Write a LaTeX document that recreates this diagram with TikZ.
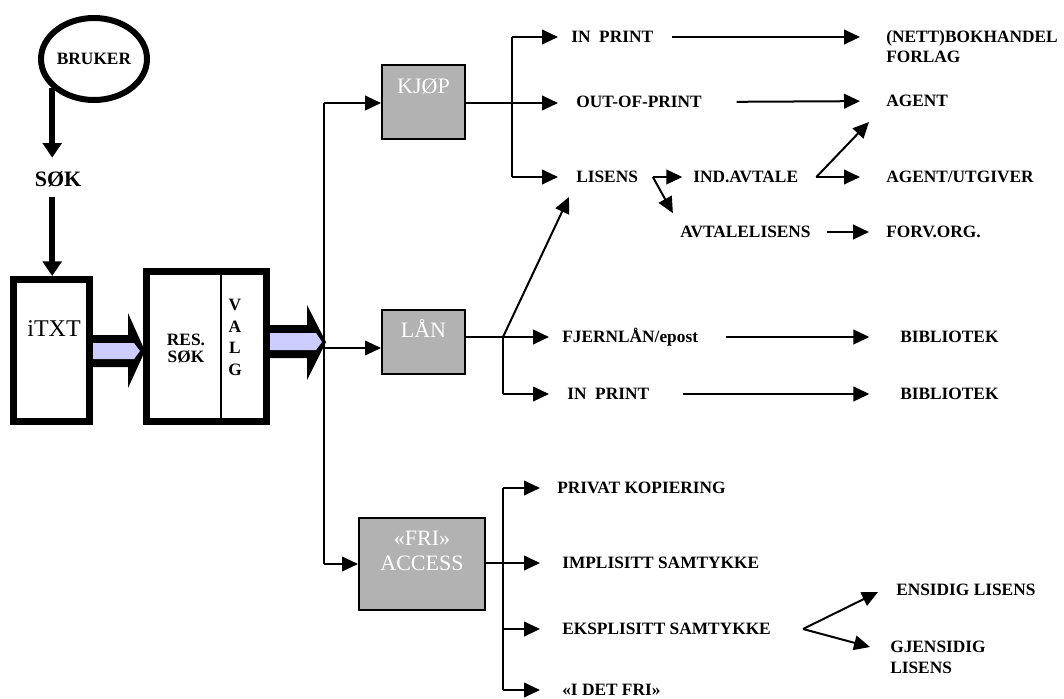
\documentclass[tikz,border=0pt]{standalone}
\usepackage{fontspec}
\setmainfont{Liberation Serif}
\usetikzlibrary{positioning,arrows.meta,shapes.geometric}
\definecolor{boxgray}{RGB}{178,178,178}
\definecolor{lilac}{RGB}{204,204,255}
\tikzset{
  lbl/.style={font=\fontsize{13}{15.5}\selectfont\bfseries,inner sep=0pt,anchor=west,text height=8.6pt,text depth=0pt},
  lbltwo/.style={font=\fontsize{13}{15.5}\selectfont\bfseries,inner sep=0pt,anchor=north west,align=left},
  graybox/.style={draw,fill=boxgray,line width=1.5pt,inner sep=0pt},
  wlbl/.style={font=\fontsize{16.5}{18.75}\selectfont,text=white,inner sep=0pt,align=center},
  heavybox/.style={draw,line width=5.25pt,inner sep=0pt},
  wire/.style={line width=1.5pt},
  arr/.style={line width=1.5pt,-{Triangle[length=12pt,width=11pt]}},
  fatarr/.style={line width=4.3pt,-{Triangle[length=11pt,width=14pt]}},
  lnk/.style 2 args={shorten <=#1,shorten >=#2}
}
\begin{document}
\begin{tikzpicture}[x=0.75pt,y=-0.75pt]
      \useasboundingbox (0,0) rectangle (1064,699);
      \node[ellipse,draw,line width=4.5pt,minimum width=79.5pt,minimum height=61.5pt,inner sep=0pt,font=\fontsize{13}{15}\selectfont\bfseries] (bruker) at (94,59) {BRUKER};
      \node[font=\fontsize{16.5}{18}\selectfont\bfseries,inner sep=0pt,text height=11pt,text depth=0pt] (sok) at (58,179) {SØK};
      \node[heavybox,minimum width=57pt,minimum height=106.5pt] (itxt) at (51.5,350.5) {};
      \node[font=\fontsize{18}{20}\selectfont,inner sep=0pt,text height=11.9pt,text depth=0pt] (itxtlbl) at (54,329) {iTXT};
      \node[heavybox,minimum width=90pt,minimum height=112.5pt] (res) at (206.5,346.5) {};
      \coordinate (divx) at (221,0);
      \node[font=\fontsize{13}{12.8}\selectfont\bfseries,align=center,inner sep=0pt] (ressok) at (186,348.5) {RES.\\SØK};
      \node[font=\fontsize{13}{16.25}\selectfont\bfseries,align=center,inner sep=0pt] (valg) at (235,337.5) {V\\A\\L\\G};
      \node[graybox,minimum width=62.25pt,minimum height=55.5pt] (kjop) at (423.5,102) {};
      \node[wlbl,text height=10.9pt,text depth=0pt] (kjoplbl) at (423.5,86) {KJØP};
      \node[graybox,minimum width=62.25pt,minimum height=48pt] (lan) at (423.5,342) {};
      \node[wlbl,text height=10.9pt,text depth=0pt] (lanlbl) at (423.5,330) {LÅN};
      \node[graybox,minimum width=94.5pt,minimum height=69pt] (fri) at (422,564) {};
      \node[wlbl] (frilbl) at (422,550.5) {«FRI»\\ACCESS};
      \node[lbl] (inp1) at (571,37) {IN\ \ PRINT};
      \node[lbl] (oop) at (576,102) {OUT-OF-PRINT};
      \node[lbl] (lis) at (576,177) {LISENS};
      \node[lbl] (ind) at (693,177) {IND.AVTALE};
      \node[lbl] (avl) at (680,232) {AVTALELISENS};
      \node[lbltwo] (bok) at (886,30) {(NETT)BOKHANDEL\\FORLAG};
      \node[lbl] (agent) at (886,101) {AGENT};
      \node[lbl] (agu) at (886,177) {AGENT/UTGIVER};
      \node[lbl] (forv) at (886,232) {FORV.ORG.};
      \node[lbl] (fjl) at (562,337) {FJERNLÅN/epost};
      \node[lbl] (inp2) at (567,394) {IN\ \ PRINT};
      \node[lbl] (bib1) at (900,337) {BIBLIOTEK};
      \node[lbl] (bib2) at (900,394) {BIBLIOTEK};
      \node[lbl] (priv) at (557,488) {PRIVAT KOPIERING};
      \node[lbl] (impl) at (562,563) {IMPLISITT SAMTYKKE};
      \node[lbl] (eks) at (562,629) {EKSPLISITT SAMTYKKE};
      \node[lbl] (idf) at (562,690) {«I DET FRI»};
      \node[lbl] (ens) at (896,590) {ENSIDIG LISENS};
      \node[lbltwo] (gjl) at (890,641) {GJENSIDIG\\LISENS};
      \draw[line width=1.1pt] (res.north -| divx) -- (res.south -| divx);
      \fill (93,335) -- (128,335) -- (128,313) -- (145,351) -- (128,388) -- (128,367) -- (93,367) -- cycle;
      \fill[lilac] (93,343) -- (134,343) -- (140,351) -- (134,359) -- (93,359) -- cycle;
      \fill (270,325) -- (307,325) -- (307,305) -- (326,342) -- (307,380) -- (307,358) -- (270,358) -- cycle;
      \fill[lilac] (270,333) -- (316,333) -- (322,342) -- (316,350) -- (270,350) -- cycle;
      \draw[fatarr,shorten >=10.3pt] (bruker.215) -- (bruker.215 |- sok.north);
      \draw[fatarr,shorten <=8pt] (bruker.215 |- sok.south) -- (bruker.215 |- itxt.north);
      \coordinate (trtop) at (324,103);
      \coordinate (trbot) at (324,564);
      \coordinate (lanin) at (324,348);
      \draw[wire] (trtop) -- (trbot);
      \draw[arr] (trtop) -- (trtop -| kjop.west);
      \draw[arr] (lanin) -- (lanin -| lan.west);
      \draw[arr] (trbot) -- (trbot -| fri.west);
      \coordinate (kb) at (512,103);
      \draw[arr,shorten >=13.5pt] (kjop.east |- kb) -- (kb -| oop.west);
      \draw[wire] (kb |- inp1.west) -- (kb |- lis.west);
      \draw[arr,shorten >=9.75pt] (kb |- inp1.west) -- (inp1.west);
      \draw[arr,shorten >=13.5pt] (kb |- lis.west) -- (lis.west);
      \draw[arr,lnk={14pt}{19.5pt}] (inp1.east) -- (inp1.east -| bok.west);
      \draw[arr,lnk={26pt}{19.5pt}] (oop.east) -- (agent.west);
      \coordinate (lh) at ([xshift=11pt]lis.east);
      \draw[arr,shorten >=8pt] (lh) -- (ind.west);
      \draw[arr,shorten >=11pt] (lh) -- (avl.north west);
      \coordinate (ih) at ([xshift=13.5pt]ind.east);
      \draw[arr,shorten >=19.5pt] (ih) -- (agu.west);
      \draw[arr] (ih) -- ([shift={(-17,15)}]agent.south west);
      \draw[arr,lnk={12pt}{12.75pt}] (avl.east) -- (forv.west);
      \coordinate (lb) at (503,337);
      \draw[wire] (lan.east |- lb) -- (lb) -- (lb |- inp2.west);
      \draw[arr,shorten >=9.75pt] (lb) -- (fjl.west);
      \draw[arr,shorten >=13.5pt] (lb |- inp2.west) -- (inp2.west);
      \draw[arr] (lb) -- ([shift={(-7,14)}]lis.south west);
      \draw[arr,lnk={21pt}{23pt}] (fjl.east) -- (bib1.west);
      \draw[arr,lnk={25pt}{23pt}] (inp2.east) -- (bib2.west);
      \coordinate (fb) at (503,563);
      \draw[wire] (fri.east |- fb) -- (fb);
      \draw[wire] (fb |- priv.west) -- (fb |- idf.west);
      \draw[arr,shorten >=12.75pt] (fb |- priv.west) -- (priv.west);
      \draw[arr,shorten >=16.5pt] (fb) -- (impl.west);
      \draw[arr,shorten >=16.5pt] (fb |- eks.west) -- (eks.west);
      \draw[arr,shorten >=16.5pt] (fb |- idf.west) -- (idf.west);
      \coordinate (eh) at ([xshift=24pt]eks.east);
      \draw[arr] (eh) -- ([shift={(-18,-4)}]ens.south west);
      \draw[arr] (eh) -- ([shift={(-20,6)}]gjl.north west);
    \end{tikzpicture}
\end{document}
